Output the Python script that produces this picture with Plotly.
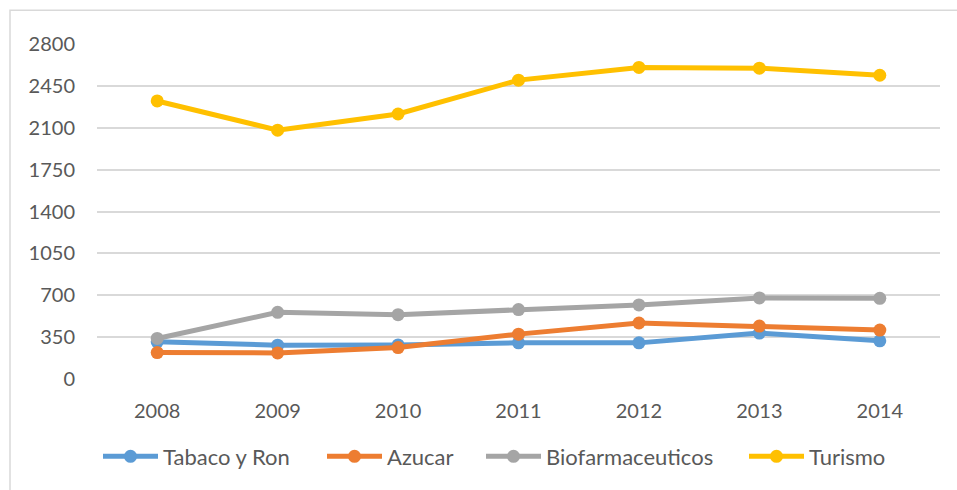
import plotly.graph_objects as go

years = ["2008", "2009", "2010", "2011", "2012", "2013", "2014"]
tabaco_ron = [311, 283, 285, 302, 302, 384, 319]
azucar = [221, 218, 263, 375, 468, 442, 409]
biofarmaceuticos = [339, 557, 538, 580, 619, 678, 674]
turismo = [2324, 2080, 2215, 2498, 2604, 2598, 2539]

y_ticks = [0, 350, 700, 1050, 1400, 1750, 2100, 2450, 2800]

series = [
    ("Tabaco y Ron", tabaco_ron, "#5B9BD5"),
    ("Azucar", azucar, "#ED7D31"),
    ("Biofarmaceuticos", biofarmaceuticos, "#A5A5A5"),
    ("Turismo", turismo, "#FFC000"),
]

W, H = 957, 490
L, R, T, B = 97, 17, 44, 109
pw, ph = W - L - R, H - T - B

legend_ids = ["legend", "legend2", "legend3", "legend4"]
legend_left_px = [98, 322, 481, 744]

fig = go.Figure()
for (name, vals, color), lid in zip(series, legend_ids):
    fig.add_trace(go.Scatter(
        x=years, y=vals, name=name, mode="lines+markers",
        line=dict(color=color, width=5),
        marker=dict(color=color, size=13),
        legend=lid,
    ))

legend_layout = {}
for lid, lx in zip(legend_ids, legend_left_px):
    legend_layout[lid] = dict(
        orientation="h", x=(lx - L) / pw, xanchor="left",
        y=(H - B - 459) / ph, yanchor="middle",
        font=dict(size=22, color="#595959"),
        bgcolor="rgba(0,0,0,0)", itemwidth=55,
    )

fig.update_layout(
    width=W, height=H,
    margin=dict(l=L, r=R, t=T, b=B),
    paper_bgcolor="white", plot_bgcolor="white",
    font=dict(family="Lato, Liberation Sans, sans-serif", size=20, color="#595959"),
    showlegend=True,
    xaxis=dict(
        type="category", range=[-0.5, len(years) - 0.5],
        showgrid=False, zeroline=False, showline=False,
        ticks="", ticklabelstandoff=18,
    ),
    yaxis=dict(
        range=[0, 2800], tickvals=y_ticks, showgrid=True, gridcolor="#D9D9D9",
        gridwidth=1.5, zeroline=False, showline=False, ticks="",
        ticklabelstandoff=21,
    ),
    shapes=[dict(
        type="rect", xref="paper", yref="paper",
        x0=(10 - L) / pw, x1=(W + 20 - L) / pw,
        y0=(H - B - (H + 20)) / ph, y1=(H - B - 10) / ph,
        line=dict(color="#D9D9D9", width=1.5), fillcolor="rgba(0,0,0,0)",
        layer="below",
    )],
    **legend_layout,
)

fig.write_html("out.html", config={"displayModeBar": False},
               post_script="document.body.style.margin='0';")
